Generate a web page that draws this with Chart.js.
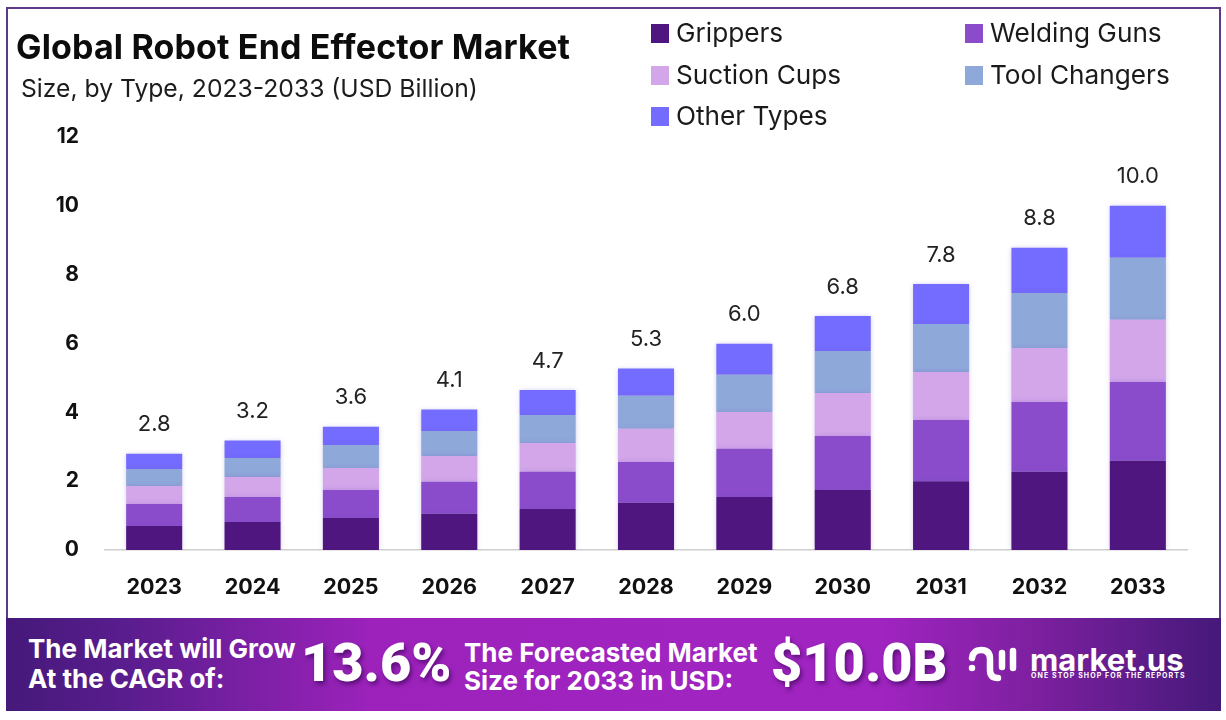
<!DOCTYPE html>
<html>
<head>
<meta charset="utf-8">
<title>Global Robot End Effector Market</title>
<script src="https://cdn.jsdelivr.net/npm/chart.js@4"></script>
<style>
html, body { margin: 0; padding: 0; background: #fff; }
body { width: 1226px; height: 720px; position: relative; overflow: hidden; font-family: Inter, "Open Sans", sans-serif; color: #111; }
#frame { position: absolute; left: 6px; top: 7px; width: 1211px; height: 615px; border: 2px solid #5d3a85; border-bottom: none; }
#grafica { position: absolute; left: 0; top: 0; }
.txt { position: absolute; white-space: nowrap; line-height: 1; }
#titulo { left: 16px; top: 30px; font-size: 34px; font-weight: 700; letter-spacing: .15px; color: #0c0c0c; }
#subtitulo { left: 21px; top: 76px; font-size: 24.7px; font-weight: 400; color: #1c1c1c; }
.sw { position: absolute; width: 18px; height: 19px; }
.lg { position: absolute; font-size: 26.2px; line-height: 1; color: #1a1a1a; white-space: nowrap; }
#banner { position: absolute; left: 6px; top: 618px; width: 1215px; height: 93px;
  background: linear-gradient(90deg, #45197a 0%, #5a1d8e 10%, #9c22bb 30%, #a024c0 55%, #a024c0 72%, #7c209f 85%, #45197a 100%); }
.bn { position: absolute; color: #fff; font-weight: 700; font-size: 26px; white-space: nowrap; line-height: 1; }
.big { font-family: Roboto, sans-serif; font-size: 54px; font-weight: 900; text-shadow: 2px 3px 4px rgba(40, 0, 70, .55); }
</style>
</head>
<body>
<div id="frame"></div>
<canvas id="grafica" width="1226" height="720"></canvas>
<div class="txt" id="titulo">Global Robot End Effector Market</div>
<div class="txt" id="subtitulo">Size, by Type, 2023-2033 (USD Billion)</div>
<div id="leyenda"></div>
<div id="banner">
  <div class="bn" style="left:22px;top:18px">The Market will Grow</div>
  <div class="bn" style="left:22px;top:48px">At the CAGR of:</div>
  <div class="bn big" style="left:295px;top:18px">13.6%</div>
  <div class="bn" style="left:458px;top:22px">The Forecasted Market</div>
  <div class="bn" style="left:458px;top:50px">Size for 2033 in USD:</div>
  <div class="bn big" style="left:765px;top:18px">$10.0B</div>
  <svg style="position:absolute;left:960px;top:26px" width="56" height="42" viewBox="0 0 56 42" fill="none" stroke="#fff" stroke-width="6.5" stroke-linecap="round">
    <path d="M6 24 v0.1 M6 14 Q7 6 15 6 Q24 6 24 15 V26 Q24 34 32 34 M36 9 V23 M47 7 V24"/>
  </svg>
  <div class="bn" style="left:1024px;top:26px;font-size:31px">market.us</div>
  <div class="bn" style="left:1025px;top:54px;font-size:7px;letter-spacing:1.1px">ONE STOP SHOP FOR THE REPORTS</div>
</div>
<script>
const anios = ['2023', '2024', '2025', '2026', '2027', '2028', '2029', '2030', '2031', '2032', '2033'];
const grippers = [0.70, 0.81, 0.93, 1.05, 1.19, 1.37, 1.54, 1.74, 2.00, 2.27, 2.59];
const weldingGuns = [0.64, 0.73, 0.81, 0.93, 1.08, 1.19, 1.40, 1.57, 1.78, 2.03, 2.29];
const suctionCups = [0.52, 0.58, 0.64, 0.75, 0.84, 0.96, 1.07, 1.25, 1.39, 1.57, 1.81];
const toolChangers = [0.49, 0.55, 0.67, 0.73, 0.81, 0.96, 1.08, 1.22, 1.40, 1.60, 1.80];
const otherTypes = [0.45, 0.51, 0.53, 0.62, 0.73, 0.79, 0.90, 1.02, 1.16, 1.31, 1.51];
const totales = ['2.8', '3.2', '3.6', '4.1', '4.7', '5.3', '6.0', '6.8', '7.8', '8.8', '10.0'];

const series = [
    { label: 'Grippers', data: grippers, backgroundColor: '#50167f' },
    { label: 'Welding Guns', data: weldingGuns, backgroundColor: '#8a4ccb' },
    { label: 'Suction Cups', data: suctionCups, backgroundColor: '#d3a6ea' },
    { label: 'Tool Changers', data: toolChangers, backgroundColor: '#8ea8da' },
    { label: 'Other Types', data: otherTypes, backgroundColor: '#746cff' }
];

// leyenda en dos columnas
const posLeyenda = [[651, 24], [965, 24], [651, 66], [965, 66], [651, 107]];
series.forEach(function (s, i) {
    const sw = document.createElement('div');
    sw.className = 'sw';
    sw.style.left = posLeyenda[i][0] + 'px';
    sw.style.top = posLeyenda[i][1] + 'px';
    sw.style.background = s.backgroundColor;
    const lg = document.createElement('div');
    lg.className = 'lg';
    lg.textContent = s.label;
    lg.style.left = (posLeyenda[i][0] + 25) + 'px';
    lg.style.top = (posLeyenda[i][1] - 4) + 'px';
    document.getElementById('leyenda').append(sw, lg);
});

// sombra suave de las barras y total encima de cada pila
const pluginBarras = {
    id: 'pluginBarras',
    beforeDatasetsDraw(chart) {
        const c = chart.ctx;
        c.save();
        c.shadowColor = 'rgba(110, 90, 190, 0.35)';
        c.shadowBlur = 5;
    },
    afterDatasetsDraw(chart) {
        const c = chart.ctx;
        c.restore();
        const tope = chart.getDatasetMeta(series.length - 1).data;
        c.save();
        c.font = '400 22px Inter';
        c.fillStyle = '#222';
        c.textAlign = 'center';
        c.textBaseline = 'middle';
        tope.forEach(function (barra, i) {
            c.fillText(totales[i], barra.x, barra.y - 29);
        });
        c.restore();
    }
};

new Chart(document.getElementById('grafica'), {
    type: 'bar',
    data: {
        labels: anios,
        datasets: series.map(function (s) {
            return Object.assign({ barPercentage: 0.57, categoryPercentage: 1 }, s);
        })
    },
    options: {
        responsive: false,
        animation: false,
        layout: { padding: { top: 137, right: 39, bottom: 110, left: 0 } },
        plugins: { legend: { display: false }, tooltip: { enabled: false } },
        scales: {
            x: {
                stacked: true,
                afterFit(eje) { eje.height = 60; },
                grid: { display: false },
                border: { color: '#cfcfcf', width: 1.5 },
                ticks: { color: '#111', padding: 17, maxRotation: 0, font: { family: 'Inter', size: 21.5, weight: '700' } }
            },
            y: {
                stacked: true,
                min: 0,
                max: 12,
                afterFit(eje) { eje.width = 105; },
                grid: { display: false, drawTicks: false },
                border: { display: false },
                ticks: { stepSize: 2, color: '#111', padding: 26, font: { family: 'Inter', size: 21, weight: '700' } }
            }
        }
    },
    plugins: [pluginBarras]
});
</script>
</body>
</html>
